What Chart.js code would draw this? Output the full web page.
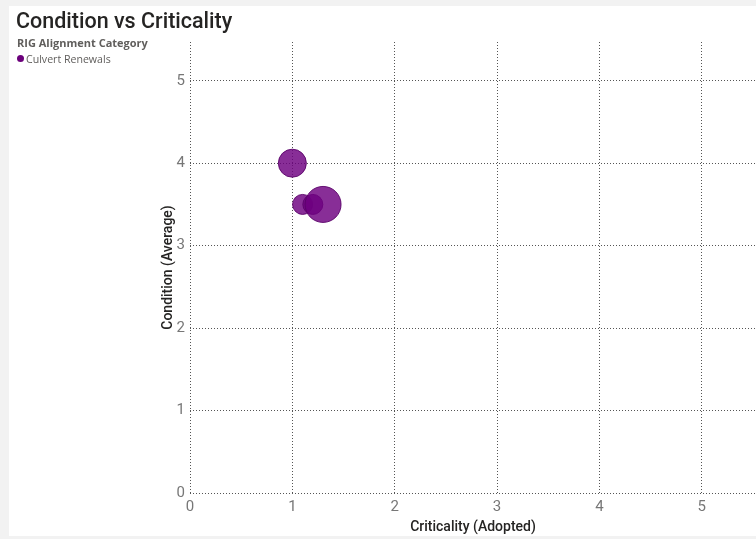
<!DOCTYPE html>
<html>
<head>
<meta charset="utf-8">
<script src="https://cdn.jsdelivr.net/npm/chart.js@4.4.1/dist/chart.umd.min.js"></script>
<style>
  html, body { margin: 0; padding: 0; }
  body { width: 756px; height: 539px; background: #f2f2f2; position: relative; overflow: hidden; }
  #panel { position: absolute; left: 9px; top: 6px; width: 747px; height: 530px; background: #ffffff; }
  #wrap { position: absolute; left: 0; top: 0; width: 756px; height: 539px; }
  #title { position: absolute; left: 16px; top: 8px; font-family: Roboto, "DejaVu Sans", sans-serif; font-weight: 500; font-size: 21.5px; color: #252423; white-space: nowrap; }
  #legendTitle { position: absolute; left: 17px; top: 35px; font-family: "Open Sans", "Noto Sans", sans-serif; font-weight: 700; font-size: 11px; color: #605e5c; white-space: nowrap; }
  #legendItem { position: absolute; left: 17px; top: 52px; font-family: "Open Sans", "Noto Sans", sans-serif; font-size: 10.6px; color: #605e5c; white-space: nowrap; }
  #legendItem .dot { display: inline-block; width: 7px; height: 7px; border-radius: 50%; background: #6b007b; margin-right: 2px; vertical-align: 1px; }
</style>
</head>
<body>
<div id="panel"></div>
<div id="wrap"><canvas id="chart" width="756" height="539"></canvas></div>
<div id="title">Condition vs Criticality</div>
<div id="legendTitle">RIG Alignment Category</div>
<div id="legendItem"><span class="dot"></span>Culvert Renewals</div>
<script>
// Culvert renewal bubbles: criticality (x), average condition (y), bubble radius
const seriesName = "Culvert Renewals";
const criticality = [1.0, 1.1, 1.2, 1.3];
const condition = [4.0, 3.5, 3.5, 3.5];
const bubbleSize = [14, 10, 10, 18];
const xTicks = [0, 1, 2, 3, 4, 5];
const yTicks = [0, 1, 2, 3, 4, 5];

const points = criticality.map((c, i) => ({ x: c, y: condition[i], r: bubbleSize[i] }));

const tickFont = { family: "Roboto, 'DejaVu Sans', sans-serif", size: 15 };
const titleFont = { family: "Roboto, 'DejaVu Sans', sans-serif", size: 14, weight: '500' };

new Chart(document.getElementById('chart'), {
  type: 'bubble',
  data: {
    datasets: [{
      label: seriesName,
      data: points,
      backgroundColor: 'rgba(110, 0, 128, 0.82)',
      borderColor: 'rgba(90, 0, 105, 0.9)',
      borderWidth: 1
    }]
  },
  options: {
    responsive: false,
    animation: false,
    layout: { autoPadding: false, padding: { left: 155, top: 42, right: 0, bottom: 0 } },
    plugins: { legend: { display: false }, tooltip: { enabled: false } },
    scales: {
      x: {
        type: 'linear',
        min: 0,
        max: 5.53,
        afterBuildTicks: s => { s.ticks = xTicks.map(v => ({ value: v })); },
        afterFit: s => { s.height = 46; },
        ticks: { font: tickFont, color: '#777777', padding: 5, includeBounds: false },
        grid: { color: '#555555', lineWidth: 1, drawTicks: false },
        border: { display: false, dash: [1, 2] },
        title: { display: true, text: 'Criticality (Adopted)', font: titleFont, color: '#252423', padding: { top: 4, bottom: 3 } }
      },
      y: {
        type: 'linear',
        min: 0,
        max: 5.47,
        afterBuildTicks: s => { s.ticks = yTicks.map(v => ({ value: v })); },
        afterFit: s => { s.width = 35; },
        ticks: { font: tickFont, color: '#777777', padding: 5, includeBounds: false },
        grid: { color: '#555555', lineWidth: 1, drawTicks: false },
        border: { display: false, dash: [1, 2] },
        title: { display: true, text: 'Condition (Average)', font: titleFont, color: '#252423', padding: { top: 5, bottom: 0 } }
      }
    }
  }
});
</script>
</body>
</html>
